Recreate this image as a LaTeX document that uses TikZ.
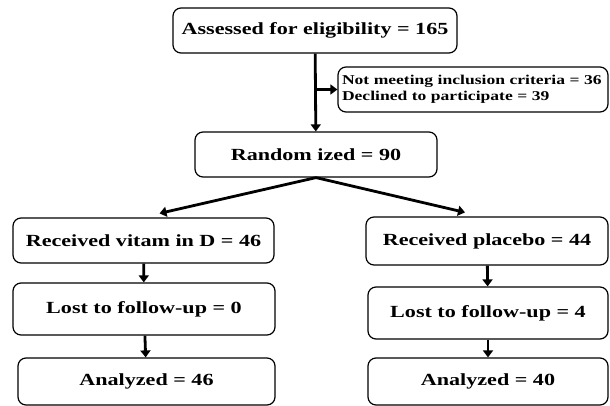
\documentclass[tikz,border=0pt]{standalone}
\usepackage{fontspec}
\setmainfont{Liberation Serif}[FakeStretch=1.3]
\usepackage{tikz}
\usetikzlibrary{arrows.meta,positioning,calc}

\begin{document}
\begin{tikzpicture}[
  x=1pt, y=-1pt,
  box/.style={draw, line width=1.2pt, rounded corners=8pt, align=center, inner sep=0pt, minimum height=45pt, font=\bfseries\fontsize{17}{20}\selectfont},
  note/.style={box, align=left, font=\bfseries\fontsize{13.5}{16}\selectfont},
  arrow/.style={-{Triangle[length=7pt,width=10pt]}, line width=2.8pt}
]
\useasboundingbox (0,0) rectangle (610,406);
% top of the chart
\node[box, minimum width=284pt] (assess) at (315,30.5) {Assessed for eligibility = 165};
\node[note, minimum width=270pt, text width=262pt] (excl) at (473,89.5) {Not meeting inclusion criteria = 36\\Declined to participate = 39};
\node[box, minimum width=242pt] (random) at (316,154.5) {Random ized = 90};
\draw[arrow] (assess) -- (random);
\draw[arrow] (assess.south |- excl.west) -- (excl.west);
% vitamin D arm
\node[box, minimum width=261pt] (vitd) at (143.5,240.5) {Received vitam in D = 46};
\node[box, minimum width=262pt, minimum height=52pt] (lostA) at (144,309) {Lost to follow-up = 0};
\node[box, minimum width=257pt, minimum height=47pt] (anaA) at (146.5,381.5) {Analyzed = 46};
% placebo arm
\node[box, minimum width=242pt, minimum height=48pt] (plac) at (487,241) {Received placebo = 44};
\node[box, minimum width=240pt, minimum height=52pt] (lostB) at (488,313) {Lost to follow-up = 4};
\node[box, minimum width=240pt, minimum height=47pt] (anaB) at (488,381.5) {Analyzed = 40};
\draw[arrow] (random.south) -- ([xshift=16pt,yshift=4pt]vitd.north);
\draw[arrow] (random.south) -- ([xshift=-22pt,yshift=4pt]plac.north);
\foreach \a/\b in {vitd/lostA,lostA/anaA,plac/lostB,lostB/anaB} {\draw[arrow] (\a) -- (\b);}
\end{tikzpicture}
\end{document}
